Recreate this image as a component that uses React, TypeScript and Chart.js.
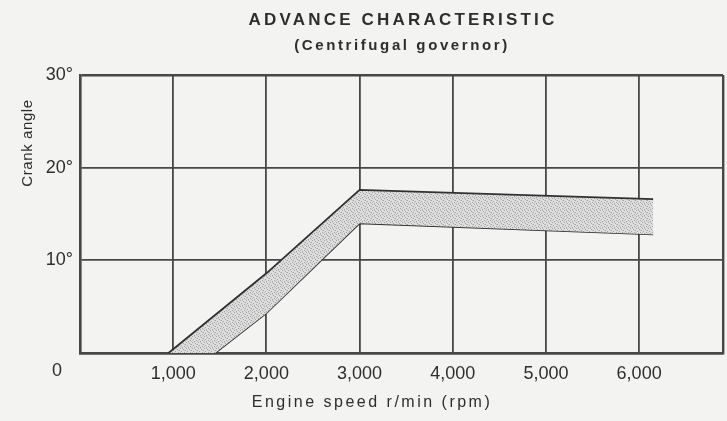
import React, { useEffect, useRef } from "react";
import { Chart, registerables } from "chart.js";

Chart.register(...registerables);

// ---- data ----
const upperRpm = [950, 2000, 3000, 6150];
const upperDeg = [0, 8.6, 17.6, 16.6];
const lowerRpm = [950, 1450, 2000, 3000, 6150];
const lowerDeg = [0, 0, 4.3, 14.0, 12.8];

const xMin = 0;
const xMax = 6900;
const xTickValues = [0, 1000, 2000, 3000, 4000, 5000, 6000, 6900];
const xTickLabels = ["", "1,000", "2,000", "3,000", "4,000", "5,000", "6,000", ""];
const yMin = 0;
const yMax = 30;
const yTickValues = [0, 10, 20, 30];
const yTickLabels = ["", "10°", "20°", "30°"];

const titleText = "ADVANCE CHARACTERISTIC";
const subtitleText = "(Centrifugal governor)";
const xTitleText = "Engine speed r/min (rpm)";
const yTitleText = "Crank angle";
const originText = "0";

const FONT = "'Liberation Sans', Arial, Helvetica, sans-serif";
const INK = "#2e2e2e";
const GRID = "#474747";
const BG = "#f3f3f1";

function makePattern(): CanvasPattern | string {
  const c = document.createElement("canvas");
  c.width = 6;
  c.height = 6;
  const g = c.getContext("2d");
  if (!g) return "#d0d0d0";
  g.fillStyle = "#dedede";
  g.fillRect(0, 0, 6, 6);
  const dark: [number, number][] = [[0, 0], [3, 1], [1, 3], [4, 4], [5, 2], [2, 5]];
  g.fillStyle = "#a2a2a2";
  dark.forEach(([x, y]) => g.fillRect(x, y, 1, 1));
  const mid: [number, number][] = [[2, 0], [5, 5], [0, 4], [4, 2]];
  g.fillStyle = "#c2c2c2";
  mid.forEach(([x, y]) => g.fillRect(x, y, 1, 1));
  const p = g.createPattern(c, "repeat");
  return p || "#d0d0d0";
}

const textPlugin = {
  id: "textPlugin",
  beforeDraw(chart: any) {
    const { ctx, width, height } = chart;
    ctx.save();
    ctx.fillStyle = BG;
    ctx.fillRect(0, 0, width, height);
    ctx.restore();
  },
  afterDraw(chart: any) {
    const { ctx } = chart;
    const xs = chart.scales.x;
    const ys = chart.scales.y;
    ctx.save();
    ctx.fillStyle = INK;
    ctx.textBaseline = "alphabetic";
    ctx.textAlign = "center";
    // title
    ctx.font = `bold 17px ${FONT}`;
    (ctx as any).letterSpacing = "3.2px";
    ctx.fillText(titleText, 403, 25);
    ctx.font = `bold 15px ${FONT}`;
    (ctx as any).letterSpacing = "2.6px";
    ctx.fillText(subtitleText, 402, 50);
    // x title
    ctx.font = `16px ${FONT}`;
    (ctx as any).letterSpacing = "2.5px";
    ctx.fillText(xTitleText, 372, 407);
    // y title
    ctx.save();
    ctx.translate(28, 143);
    ctx.rotate(-Math.PI / 2);
    ctx.font = `15px ${FONT}`;
    (ctx as any).letterSpacing = "0.6px";
    ctx.textBaseline = "middle";
    ctx.fillText(yTitleText, 0, 0);
    ctx.restore();
    // origin "0"
    (ctx as any).letterSpacing = "0px";
    ctx.font = `18px ${FONT}`;
    ctx.textBaseline = "middle";
    ctx.fillText(originText, xs.getPixelForValue(xMin) - 23, ys.getPixelForValue(yMin) + 18);
    ctx.restore();
  },
};

export default function App() {
  const ref = useRef<HTMLCanvasElement | null>(null);

  useEffect(() => {
    if (!ref.current) return;
    const fillPattern = makePattern();
    const upper = upperRpm.map((x, i) => ({ x, y: upperDeg[i] }));
    const lower = lowerRpm.map((x, i) => ({ x, y: lowerDeg[i] }));
    const chart = new Chart(ref.current, {
      type: "line",
      data: {
        datasets: [
          {
            label: "Upper limit",
            data: upper,
            borderColor: "#303030",
            borderWidth: 1.8,
            pointRadius: 0,
            fill: "+1",
            backgroundColor: fillPattern as any,
            tension: 0,
          },
          {
            label: "Lower limit",
            data: lower,
            borderColor: "#303030",
            borderWidth: 1.8,
            pointRadius: 0,
            fill: false,
            tension: 0,
          },
        ],
      },
      options: {
        animation: false,
        responsive: false,
        maintainAspectRatio: false,
        layout: { padding: { left: 0, right: 4, top: 75, bottom: 0 } },
        plugins: {
          legend: { display: false },
          title: { display: false },
          tooltip: { enabled: false },
        },
        scales: {
          x: {
            type: "linear",
            min: xMin,
            max: xMax,
            afterBuildTicks: (s: any) => {
              s.ticks = xTickValues.map((value) => ({ value }));
            },
            ticks: {
              color: INK,
              font: { family: FONT, size: 18 },
              padding: 10,
              maxRotation: 0,
              autoSkip: false,
              callback: (v: any) => {
                const i = xTickValues.indexOf(Number(v));
                return i >= 0 ? xTickLabels[i] : "";
              },
            },
            grid: {
              color: GRID,
              lineWidth: (c: any) =>
                c.tick && (c.tick.value === xMin || c.tick.value === xMax) ? 2.4 : 1.8,
              drawTicks: false,
            },
            border: { display: true, color: GRID, width: 2.4 },
            afterFit: (s: any) => {
              s.height = 68;
              s.paddingLeft = 0;
              s.paddingRight = 0;
            },
          },
          y: {
            type: "linear",
            min: yMin,
            max: yMax,
            afterBuildTicks: (s: any) => {
              s.ticks = yTickValues.map((value) => ({ value }));
            },
            ticks: {
              color: INK,
              font: { family: FONT, size: 18 },
              padding: 7,
              callback: (v: any) => {
                const i = yTickValues.indexOf(Number(v));
                return i >= 0 ? yTickLabels[i] : "";
              },
            },
            grid: {
              color: GRID,
              lineWidth: (c: any) =>
                c.tick && (c.tick.value === yMin || c.tick.value === yMax) ? 2.4 : 1.8,
              drawTicks: false,
            },
            border: { display: true, color: GRID, width: 2.4 },
            afterFit: (s: any) => {
              s.width = 80;
              s.paddingTop = 0;
              s.paddingBottom = 0;
            },
          },
        },
      },
      plugins: [textPlugin],
    });
    return () => chart.destroy();
  }, []);

  return (
    <div style={{ position: "absolute", left: 0, top: 0, width: 727, height: 421, background: BG }}>
      <canvas ref={ref} width={727} height={421} style={{ display: "block" }} />
    </div>
  );
}
